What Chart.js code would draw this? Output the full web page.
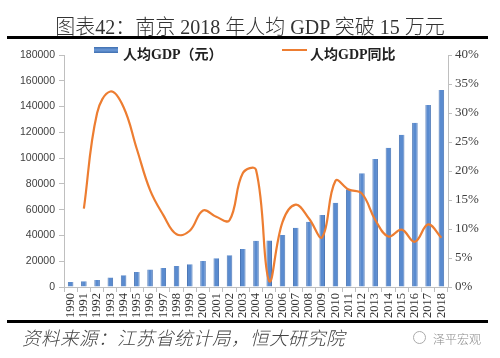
<!DOCTYPE html>
<html>
<head>
<meta charset="utf-8">
<script src="https://cdn.jsdelivr.net/npm/chart.js@4/dist/chart.umd.min.js"></script>
<style>
  body { margin: 0; background: #fff; }
  #wrap { position: relative; width: 500px; height: 358px; overflow: hidden; }
  #chart { position: absolute; left: 0; top: 0; }
  .abs { position: absolute; white-space: nowrap; }
  #title { left: 0; width: 500px; top: 11px; text-align: center; font: 300 20px "Liberation Serif", "Noto Sans CJK SC", serif; color: #333; }
  .rule { left: 7px; width: 481px; height: 3px; background: #000; }
  .leg { font: bold 14px "Liberation Serif", "Noto Sans CJK SC", serif; color: #222; top: 43px; }
  #foot { left: 22px; top: 324px; font: italic 300 18.5px "Noto Sans CJK SC", sans-serif; color: #444; letter-spacing: 0.5px; }
  #mark { left: 433px; top: 330px; font: 300 12px "Noto Sans CJK SC", sans-serif; color: #8a8a8a; }
  #icon { left: 413px; top: 331px; width: 11px; height: 11px; border: 1px solid #aaa; border-radius: 50%; }
</style>
</head>
<body>
<div id="wrap">
  <canvas id="chart" width="500" height="358"></canvas>
  <div class="abs" id="title">图表42：南京 2018 年人均 GDP 突破 15 万元</div>
  <div class="abs rule" style="top:36px"></div>
  <div class="abs" style="left:94px;top:47px;width:24px;height:6px;background:linear-gradient(#3f6fb0,#6c9ad8,#3f6fb0);"></div>
  <div class="abs leg" style="left:123px">人均GDP（元）</div>
  <div class="abs" style="left:282px;top:49px;width:25px;height:2px;background:#ed7d31;"></div>
  <div class="abs leg" style="left:310px">人均GDP同比</div>
  <div class="abs rule" style="top:320px"></div>
  <div class="abs" id="foot">资料来源：江苏省统计局，恒大研究院</div>
  <div class="abs" id="icon"></div>
  <div class="abs" id="mark">泽平宏观</div>
</div>
<script>
const years = ['1990','1991','1992','1993','1994','1995','1996','1997','1998','1999',
  '2000','2001','2002','2003','2004','2005','2006','2007','2008','2009',
  '2010','2011','2012','2013','2014','2015','2016','2017','2018'];

// 人均GDP (元)
const gdpPerCapita = [3800, 4400, 5400, 7300, 9100, 11700, 13500, 14800, 16300, 17600,
  20200, 22300, 24600, 29500, 35800, 36000, 40300, 46000, 50700, 55800,
  65400, 75800, 88200, 99300, 108000, 118200, 127500, 141200, 152800];

// 人均GDP同比 (%)
const gdpGrowth = [null, 13.5, 30.0, 33.7, 31.0, 23.8, 16.7, 12.4, 9.1, 9.7,
  13.2, 12.1, 11.5, 19.6, 20.2, 1.0, 11.2, 14.2, 11.8, 8.6,
  18.3, 16.8, 16.1, 11.6, 8.7, 9.9, 7.8, 10.8, 8.5];

const leftTicks = { min: 0, max: 180000, step: 20000 };
const rightTicks = { min: 0, max: 40, step: 5 };

const axisGray = '#bfbfbf';

new Chart(document.getElementById('chart'), {
  data: {
    labels: years,
    datasets: [
      {
        type: 'line',
        label: '人均GDP同比',
        data: gdpGrowth,
        yAxisID: 'y1',
        borderColor: '#ed7d31',
        borderWidth: 2.2,
        pointRadius: 0,
        tension: 0.4,
        order: 0
      },
      {
        type: 'bar',
        label: '人均GDP（元）',
        data: gdpPerCapita,
        yAxisID: 'y',
        backgroundColor: '#5a8bcf',
        borderColor: '#4a76b6',
        borderWidth: { left: 1, right: 1, top: 0, bottom: 0 },
        barPercentage: 0.42,
        categoryPercentage: 1,
        order: 1
      }
    ]
  },
  options: {
    responsive: false,
    animation: false,
    layout: { padding: { top: 55, left: 0, right: 0, bottom: 0 } },
    plugins: { legend: { display: false }, tooltip: { enabled: false } },
    scales: {
      x: {
        offset: true,
        grid: { drawOnChartArea: false, tickLength: 5, color: axisGray, offset: true },
        border: { color: axisGray },
        ticks: {
          autoSkip: false, minRotation: 90, maxRotation: 90, padding: 1,
          color: '#333', font: { family: 'Liberation Serif', size: 12.5 }
        },
        afterFit(scale) { scale.height = 71; }
      },
      y: {
        position: 'left',
        min: leftTicks.min, max: leftTicks.max,
        grid: { drawOnChartArea: false, tickLength: 5, color: axisGray },
        border: { color: axisGray },
        ticks: {
          stepSize: leftTicks.step, padding: 4,
          color: '#404040', font: { family: 'Liberation Sans', size: 10.5 },
          callback: v => String(v)
        },
        afterFit(scale) { scale.width = 64; }
      },
      y1: {
        position: 'right',
        min: rightTicks.min, max: rightTicks.max,
        grid: { drawOnChartArea: false, tickLength: 4, color: axisGray },
        border: { color: axisGray },
        ticks: {
          stepSize: rightTicks.step, padding: 3,
          color: '#404040', font: { family: 'Liberation Serif', size: 13 },
          callback: v => v + '%'
        },
        afterFit(scale) { scale.width = 52; }
      }
    }
  }
});
</script>
</body>
</html>
